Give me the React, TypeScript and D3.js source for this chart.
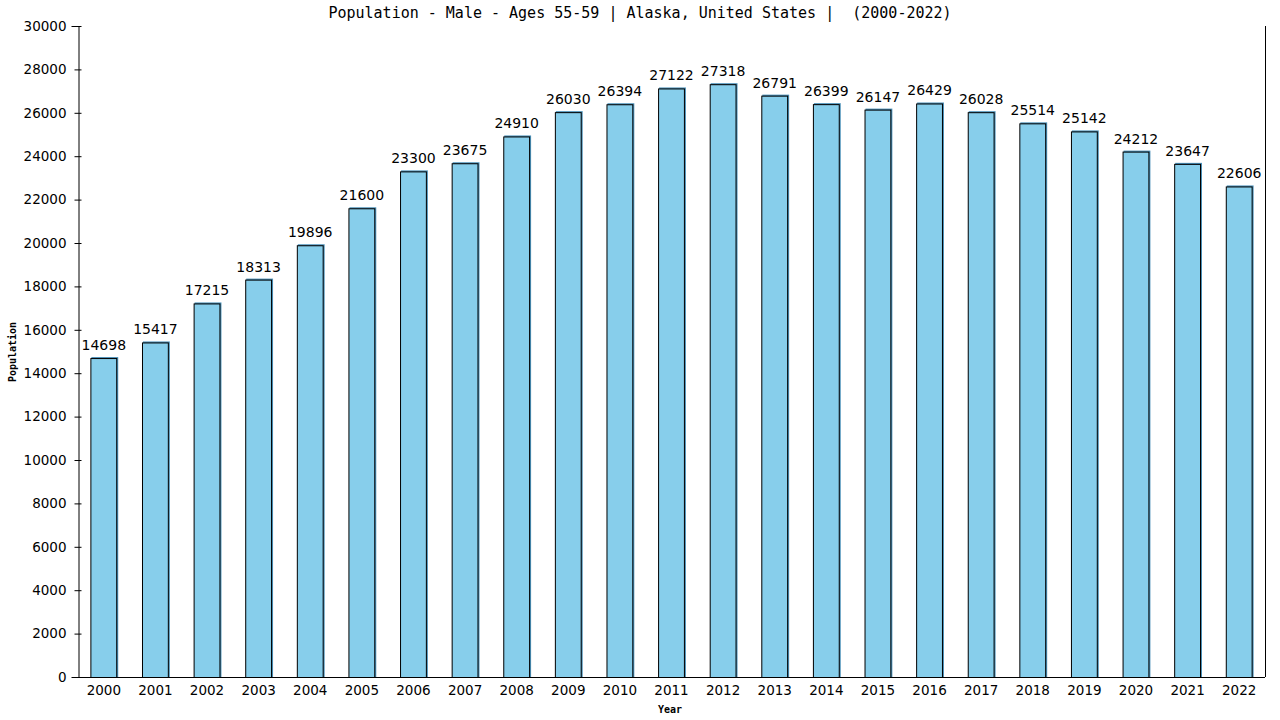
import * as d3 from "d3";
import { useEffect, useRef } from "react";

const years = [
  "2000", "2001", "2002", "2003", "2004", "2005", "2006", "2007", "2008", "2009", "2010", "2011",
  "2012", "2013", "2014", "2015", "2016", "2017", "2018", "2019", "2020", "2021", "2022",
];
const population = [
  14698, 15417, 17215, 18313, 19896, 21600, 23300, 23675, 24910, 26030, 26394, 27122,
  27318, 26791, 26399, 26147, 26429, 26028, 25514, 25142, 24212, 23647, 22606,
];
const yTicks = d3.range(0, 30001, 2000);

const width = 1280;
const height = 720;
const margin = { top: 26, right: 15, bottom: 43, left: 78 };

const App = () => {
  const ref = useRef<SVGSVGElement | null>(null);

  useEffect(() => {
    if (!ref.current) return;
    const svg = d3.select(ref.current);
    svg.selectAll("*").remove();

    const x = d3
      .scaleBand()
      .domain(years)
      .range([margin.left, width - margin.right])
      .paddingInner(0.48)
      .paddingOuter(0.24);
    const y = d3
      .scaleLinear()
      .domain([0, 30000])
      .range([height - margin.bottom, margin.top]);

    svg.append("rect").attr("width", width).attr("height", height).attr("fill", "#fff");

    // frame on the right
    svg
      .append("line")
      .attr("x1", width - margin.right + 0.5)
      .attr("x2", width - margin.right + 0.5)
      .attr("y1", margin.top)
      .attr("y2", height - margin.bottom)
      .attr("stroke", "#000");

    const data = years.map((yr, i) => ({ yr, v: population[i] }));

    // blue shadow edge
    svg
      .append("g")
      .selectAll("rect")
      .data(data)
      .join("rect")
      .attr("x", (d) => x(d.yr)! + 1)
      .attr("y", (d) => y(d.v) - 1)
      .attr("width", x.bandwidth())
      .attr("height", (d) => y(0) - y(d.v) + 1)
      .attr("fill", "#4a90b8");

    svg
      .append("g")
      .selectAll("rect")
      .data(data)
      .join("rect")
      .attr("x", (d) => x(d.yr)! + 0.5)
      .attr("y", (d) => y(d.v) + 0.5)
      .attr("width", x.bandwidth() - 1)
      .attr("height", (d) => y(0) - y(d.v))
      .attr("fill", "#87ceeb")
      .attr("stroke", "#000")
      .attr("stroke-width", 1);

    svg
      .append("g")
      .selectAll("text")
      .data(data)
      .join("text")
      .attr("x", (d) => x(d.yr)! + x.bandwidth() / 2)
      .attr("y", (d) => y(d.v) - 8)
      .attr("text-anchor", "middle")
      .attr("font-family", "DejaVu Sans")
      .attr("font-size", 14)
      .attr("fill", "#000")
      .text((d) => d.v);

    const yAxis = svg
      .append("g")
      .attr("transform", `translate(${margin.left + 0.5},0)`)
      .call(d3.axisLeft(y).tickValues(yTicks).tickSize(7).tickPadding(5).tickFormat(d3.format("d")));
    yAxis.selectAll("text").attr("font-family", "DejaVu Sans").attr("font-size", 13.5).attr("fill", "#000");
    yAxis.selectAll(".tick line").attr("transform", "translate(3,0)");

    const xAxis = svg
      .append("g")
      .attr("transform", `translate(0,${height - margin.bottom + 0.5})`)
      .call(d3.axisBottom(x).tickSize(0).tickPadding(8));
    xAxis.select(".domain").attr("d", `M${margin.left},0H${width - margin.right}`);
    xAxis.selectAll("text").attr("font-family", "DejaVu Sans").attr("font-size", 13.5).attr("fill", "#000");

    svg
      .append("text")
      .attr("x", 640)
      .attr("y", 18)
      .attr("text-anchor", "middle")
      .attr("font-family", "DejaVu Sans Mono")
      .attr("font-size", 15)
      .attr("fill", "#000")
      .style("white-space", "pre")
      .text("Population - Male - Ages 55-59 | Alaska, United States |  (2000-2022)");

    svg
      .append("text")
      .attr("x", 670)
      .attr("y", 713)
      .attr("text-anchor", "middle")
      .attr("font-family", "DejaVu Sans Mono")
      .attr("font-weight", "bold")
      .attr("font-size", 10)
      .text("Year");

    svg
      .append("text")
      .attr("transform", "translate(16,352) rotate(-90)")
      .attr("text-anchor", "middle")
      .attr("font-family", "DejaVu Sans Mono")
      .attr("font-weight", "bold")
      .attr("font-size", 10)
      .text("Population");
  }, []);

  return (
    <svg
      ref={ref}
      width={width}
      height={height}
      style={{ position: "absolute", left: 0, top: 0, display: "block" }}
    />
  );
};

export default App;
